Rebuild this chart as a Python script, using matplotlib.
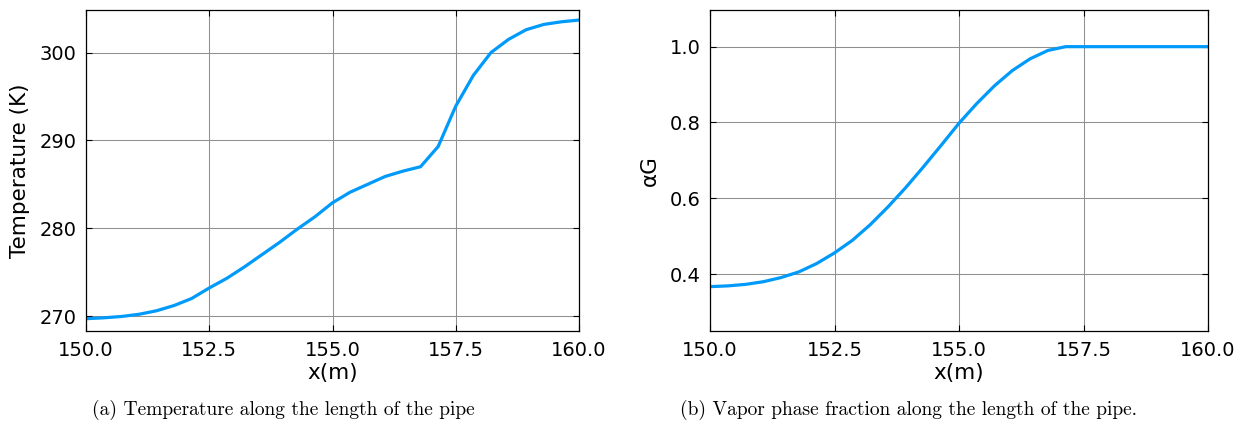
import numpy as np
import matplotlib
matplotlib.use("Agg")
import matplotlib.pyplot as plt

# Position along the pipe (m)
x_m = np.linspace(150.0, 160.0, 29)

# Temperature profile (K)
temperature_K = [269.7, 269.8, 269.95, 270.2, 270.6, 271.2, 272.0, 273.2,
                 274.3, 275.6, 277.0, 278.4, 279.9, 281.3, 282.9, 284.1,
                 285.0, 285.9, 286.5, 287.0, 289.3, 293.9, 297.4, 300.0,
                 301.5, 302.6, 303.2, 303.5, 303.7]

# Vapor phase fraction
alpha_G = [0.367, 0.369, 0.373, 0.380, 0.391, 0.406, 0.428, 0.456,
           0.489, 0.530, 0.577, 0.628, 0.683, 0.740, 0.798, 0.850,
           0.897, 0.937, 0.968, 0.990, 1.0, 1.0, 1.0, 1.0,
           1.0, 1.0, 1.0, 1.0, 1.0]

x_ticks = [150.0, 152.5, 155.0, 157.5, 160.0]
t_ticks = [270, 280, 290, 300]
a_ticks = [0.4, 0.6, 0.8, 1.0]

captions = ["(a) Temperature along the length of the pipe",
            "(b) Vapor phase fraction along the length of the pipe."]

LINE = "#009AFA"
W, H = 1247, 426

fig = plt.figure(figsize=(W / 100, H / 100), dpi=100)
plt.rcParams["font.family"] = "DejaVu Sans"


def style(ax):
    ax.grid(True, color="#8f8f8f", linewidth=0.75)
    ax.set_axisbelow(True)
    for s in ax.spines.values():
        s.set_linewidth(0.9)
        s.set_color("black")
    ax.tick_params(direction="in", length=4, width=0.8, top=True, right=True,
                   labelsize=14, pad=7)
    ax.set_xticks(x_ticks)
    ax.set_xticklabels([f"{v:.1f}" for v in x_ticks])
    ax.set_xlim(150, 160)
    ax.set_xlabel("x(m)", fontsize=15.5, labelpad=2)


ax1 = fig.add_axes([86 / W, (H - 331) / H, 493 / W, 321.5 / H])
ax1.plot(x_m, temperature_K, color=LINE, linewidth=2.3)
style(ax1)
ax1.set_ylim(268.3, 304.9)
ax1.set_yticks(t_ticks)
ax1.set_ylabel("Temperature (K)", fontsize=15.5, labelpad=7)

ax2 = fig.add_axes([710 / W, (H - 331) / H, 498 / W, 321.5 / H])
ax2.plot(x_m, alpha_G, color=LINE, linewidth=2.3)
style(ax2)
ax2.set_ylim(0.25, 1.098)
ax2.set_yticks(a_ticks)
ax2.set_yticklabels([f"{v:.1f}" for v in a_ticks])
ax2.set_ylabel("αG", fontsize=15.5, labelpad=7)

fig.text(92 / W, 1 - 410 / H, captions[0], family="cmr10", fontsize=14,
         ha="left", va="center")
fig.text(680 / W, 1 - 410 / H, captions[1], family="cmr10", fontsize=14,
         ha="left", va="center")

fig.savefig("out.png", dpi=100)
